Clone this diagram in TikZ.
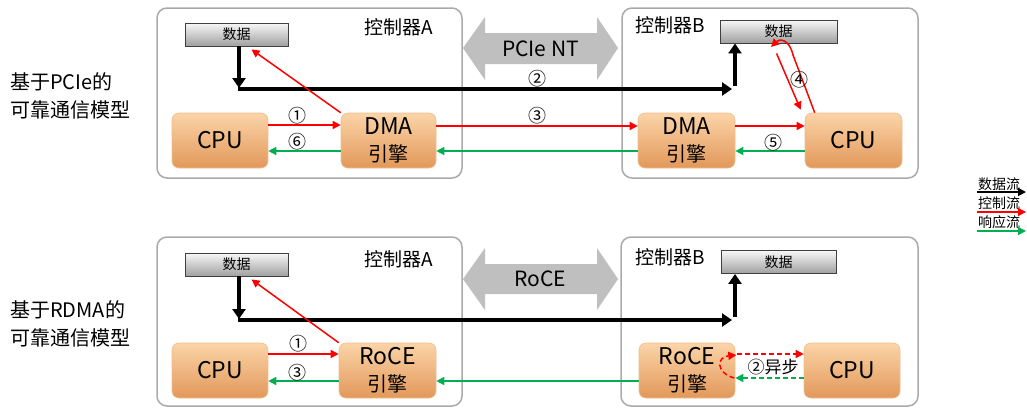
\documentclass[tikz,border=0pt]{standalone}
\usepackage{fontspec}
\setmainfont{Noto Sans CJK SC}
\usetikzlibrary{arrows.meta,calc}
\definecolor{ctrlgray}{RGB}{170,170,170}
\definecolor{myred}{RGB}{255,0,0}
\definecolor{mygreen}{RGB}{0,176,80}
\definecolor{boxtop}{RGB}{251,212,168}
\definecolor{boxbot}{RGB}{226,152,90}
\definecolor{boxedge}{RGB}{240,190,140}
\definecolor{dgtop}{RGB}{248,248,248}
\definecolor{dgbot}{RGB}{160,160,160}
\definecolor{bigarrow}{RGB}{191,191,191}
\newcommand{\latbig}{\fontsize{23}{26}\selectfont}
\tikzset{
  ctrlbox/.style={draw=ctrlgray, line width=1.5pt, rounded corners=10pt, fill=white, inner sep=0pt},
  unitbox/.style={draw=boxedge, line width=0.6pt, rounded corners=7pt, top color=boxtop, bottom color=boxbot,
    inner sep=0pt, align=center, font=\fontsize{20}{27}\selectfont, minimum height=55pt},
  databox/.style={draw=black!75, line width=0.9pt, top color=dgtop, bottom color=dgbot, inner sep=0pt,
    font=\fontsize{14}{16}\selectfont, minimum height=23pt},
  dataflow/.style={line width=3.5pt, -{Triangle[width=13pt,length=10pt]}},
  ctrlflow/.style={draw=myred, line width=1.5pt, -{Triangle[width=8pt,length=8pt]}},
  respflow/.style={draw=mygreen, line width=1.5pt, -{Triangle[width=8pt,length=8pt]}},
  dashline/.style={dash pattern=on 5pt off 3pt},
  numlbl/.style={font=\fontsize{18}{18}\selectfont, inner sep=0pt},
  ctrllbl/.style={font=\fontsize{19}{20}\selectfont, inner sep=0pt},
  sidelbl/.style={font=\fontsize{20}{28}\selectfont, align=left, inner sep=0pt, anchor=west},
  leglbl/.style={font=\fontsize{14}{14}\selectfont, inner sep=0pt},
  bigarr/.style={fill=bigarrow, draw=none},
  biglbl/.style={font=\fontsize{21}{22}\selectfont, inner sep=0pt}
}
\begin{document}
\begin{tikzpicture}[x=1pt,y=-1pt]
\useasboundingbox (0,0) rectangle (1027,408);

% ---------- side labels
\node[sidelbl] (lbltop) at (10,96) {基于PCIe的\\可靠通信模型};
\node[sidelbl] (lblbot) at (10,324) {基于RDMA的\\可靠通信模型};

% ================= TOP =================
\node[ctrlbox, minimum width=305pt, minimum height=170pt] (ctrlA) at (309.5,93) {};
\node[ctrlbox, minimum width=296pt, minimum height=170pt] (ctrlB) at (770,93) {};
\node[ctrllbl] (ctrlAlbl) at (399,27) {控制器A};
\node[ctrllbl] (ctrlBlbl) at (670,25) {控制器B};

\fill[bigarr] (463,48) -- (485,17) -- (485,33) -- (597,33) -- (597,17) -- (618,48)
  -- (597,80) -- (597,64) -- (485,64) -- (485,80) -- cycle;
\node[biglbl] (pcie) at (540.5,49) {PCIe NT};

\node[databox, minimum width=103pt] (dataA) at (236.5,34.5) {数据};
\node[databox, minimum width=117pt] (dataB) at (778.5,31.5) {数据};

\node[unitbox, minimum width=96pt] (cpuA) at (220,140.5) {\latbig CPU};
\node[unitbox, minimum width=95pt] (dmaA) at (388.5,140.5) {{\latbig DMA}\\引擎};
\node[unitbox, minimum width=97pt] (dmaB) at (686.5,140.5) {{\latbig DMA}\\引擎};
\node[unitbox, minimum width=97pt] (cpuB) at (853.5,140.5) {\latbig CPU};

% data flow
\coordinate (dendB) at (732,89);
\draw[dataflow] (dataA.south -| 239,0) -- (239,88);
\draw[dataflow, line cap=butt] (237.5,89) -- (dendB);
\draw[dataflow] (735,86) -- (dataB.south -| 735,0);
\node[numlbl] (n2t) at (537,79) {②};

% control / response
\draw[ctrlflow] (cpuA.east |- 0,125) -- (dmaA.west |- 0,125);
\node[numlbl] (n1t) at (297,116) {①};
\draw[respflow] (dmaA.west |- 0,151) -- (cpuA.east |- 0,151);
\node[numlbl] (n6t) at (297,142) {⑥};
\draw[ctrlflow] (dmaA.north west) -- ($(dataA.south west)+(67,3)$);
\draw[ctrlflow] (dmaA.east |- 0,126) -- (dmaB.west |- 0,126);
\node[numlbl] (n3t) at (537,116) {③};
\draw[respflow] (dmaB.west |- 0,151) -- (dmaA.east |- 0,151);
\draw[ctrlflow] (dmaB.east |- 0,126) -- (cpuB.west |- 0,126);
\draw[respflow] (cpuB.west |- 0,151) -- (dmaB.east |- 0,151);
\node[numlbl] (n5t) at (773,143) {⑤};
\draw[ctrlflow] ($(dataB.south west)+(57,10)$) -- ($(cpuB.north west)+(-4,-3)$);
\draw[ctrlflow] ($(cpuB.north west)+(10,0)$) -- (793,55) .. controls (789,38) and (779,39) .. (771,47);
\node[numlbl] (n4t) at (799,80) {④};

% ================= BOTTOM =================
\node[ctrlbox, minimum width=305pt, minimum height=169pt] (ctrlA2) at (309.5,321.5) {};
\node[ctrlbox, minimum width=297pt, minimum height=169pt] (ctrlB2) at (769.5,321.5) {};
\node[ctrllbl] (ctrlA2lbl) at (399,259) {控制器A};
\node[ctrllbl] (ctrlB2lbl) at (670,257) {控制器B};

\fill[bigarr] (463,279) -- (485,248) -- (485,264) -- (597,264) -- (597,248) -- (618,279)
  -- (597,310) -- (597,294) -- (485,294) -- (485,310) -- cycle;
\node[biglbl] (roce) at (540.5,279) {RoCE};

\node[databox, minimum width=103pt] (dataA2) at (236.5,264.5) {数据};
\node[databox, minimum width=115pt] (dataB2) at (778.5,262) {数据};

\node[unitbox, minimum width=96pt] (cpuA2) at (220,370.5) {\latbig CPU};
\node[unitbox, minimum width=97pt] (roceA) at (387.5,370.5) {{\latbig RoCE}\\引擎};
\node[unitbox, minimum width=96pt] (roceB) at (687,370.5) {{\latbig RoCE}\\引擎};
\node[unitbox, minimum width=96pt] (cpuB2) at (852,370.5) {\latbig CPU};

\coordinate (dendB2) at (732,320);
\draw[dataflow] (dataA2.south -| 239,0) -- (239,319);
\draw[dataflow, line cap=butt] (237.5,320) -- (dendB2);
\draw[dataflow] (735,317) -- (dataB2.south -| 735,0);

\draw[ctrlflow] (cpuA2.east |- 0,354) -- (roceA.west |- 0,354);
\node[numlbl] (n1b) at (298,344) {①};
\draw[respflow] (roceA.west |- 0,381) -- (cpuA2.east |- 0,381);
\node[numlbl] (n3b) at (297,373) {③};
\draw[ctrlflow] (roceA.north west) -- ($(dataA2.south west)+(67,3)$);
\draw[respflow] (roceB.west |- 0,381) -- (roceA.east |- 0,381);

\draw[ctrlflow, dashline] ($(roceB.east |- 0,354)+(2,0)$) -- (cpuB2.west |- 0,354);
\draw[respflow, dashline] (cpuB2.west |- 0,378) -- (roceB.east |- 0,378);
\draw[ctrlflow, dashline] ($(roceB.east |- 0,378)+(-1,0)$) .. controls (716,373) and (716,357) .. ($(roceB.east |- 0,355)+(1,0)$);
\node[font=\fontsize{17}{17}\selectfont, inner sep=0pt] (async) at (773,367) {②异步};

% ================= LEGEND =================
\node[leglbl] (lg1) at (999,184) {数据流};
\coordinate (lg1a) at (977,192); \coordinate (lg1b) at (1026,192);
\draw[line width=1.8pt, -{Triangle[width=8pt,length=8pt]}] (lg1a) -- (lg1b);
\node[leglbl] (lg2) at (999,203) {控制流};
\coordinate (lg2a) at (977,212); \coordinate (lg2b) at (1026,212);
\draw[ctrlflow] (lg2a) -- (lg2b);
\node[leglbl] (lg3) at (999,222) {响应流};
\coordinate (lg3a) at (977,231); \coordinate (lg3b) at (1026,231);
\draw[respflow] (lg3a) -- (lg3b);
\end{tikzpicture}
\end{document}
